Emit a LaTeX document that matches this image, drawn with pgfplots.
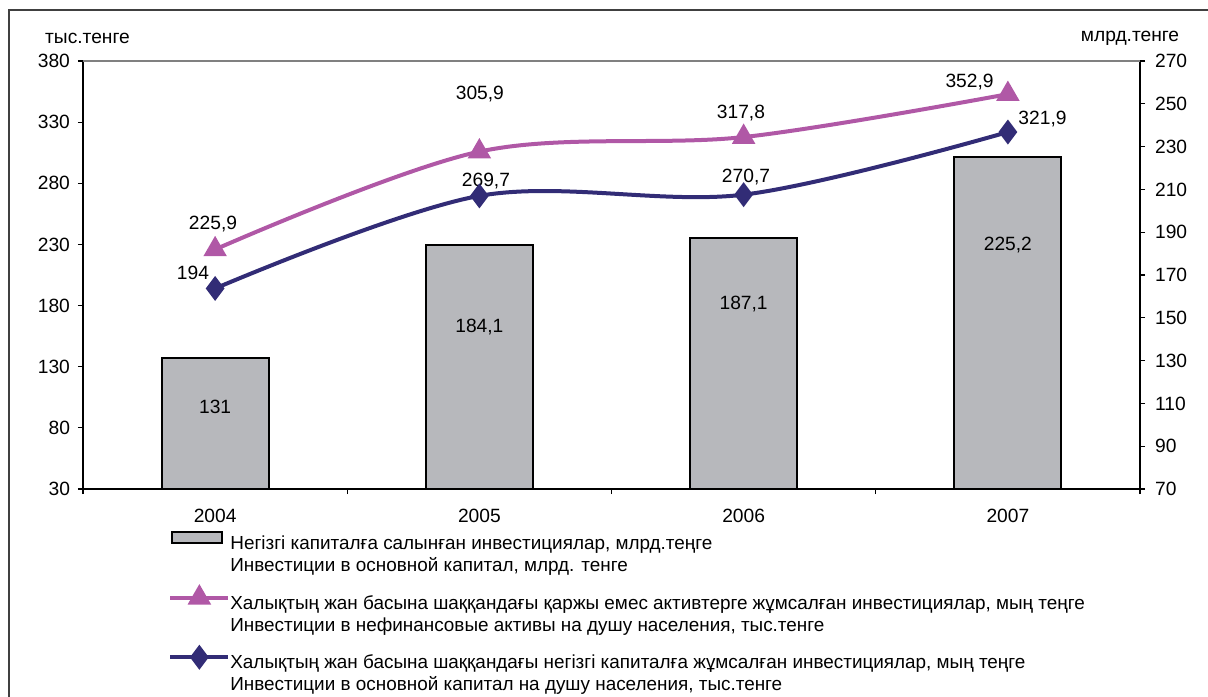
\documentclass[border=0pt]{standalone}
\usepackage{fontspec}
\setmainfont{Liberation Sans}
\usepackage{pgfplots}
\pgfplotsset{compat=1.18}

\definecolor{barfill}{RGB}{183,184,188}
\definecolor{pinkline}{RGB}{176,88,166}
\definecolor{navyline}{RGB}{50,44,118}

\pgfplotsset{
  base/.style={
    scale only axis, width=528.5pt, height=214pt,
    xmin=-0.5, xmax=3.5,
    /pgf/number format/assume math mode=true,
    tick label style={font=\fontsize{9.6}{11}\selectfont},
    tick align=outside, major tick length=2.5pt, minor tick length=2.5pt,
    axis line style={black, line width=0.75pt},
    every tick/.style={black, line width=0.6pt},
    clip=false,
  },
  linelegend/.style={legend image code/.code={
      \draw[mark repeat=2, mark phase=2, ##1, yshift=2.5pt]
        plot coordinates {(0pt,0pt) (14.5pt,0pt) (29pt,0pt)};}},
  barlegend/.style={legend image code/.code={
      \draw[fill=barfill, draw=black, line width=1pt] (1pt,-0.3pt) rectangle (26pt,5.2pt);}},
}

\begin{document}
\begin{tikzpicture}[font=\fontsize{9.6}{11.5}\selectfont]
\useasboundingbox (-41.5pt,-103.5pt) rectangle (562.5pt,244.5pt);
\draw[line width=1pt, black!75] (-37pt,-110pt) -- (-37pt,239.5pt) -- (570pt,239.5pt);

% bars, right axis (млрд. тенге)
\begin{axis}[base,
    axis y line*=right, axis x line=none,
    ymin=70, ymax=270, ytick={70,90,...,270},
    yticklabel style={xshift=1.5pt},
    ybar, bar width=53.5pt]
  \addplot[fill=barfill, draw=black, line width=1pt] coordinates {
    (0,131) (1,184.1) (2,187.1) (3,225.2)};
  \node at (axis cs:0,108.3) {131};
  \node at (axis cs:1,145.7) {184,1};
  \node at (axis cs:2,156.4) {187,1};
  \node at (axis cs:3,184) {225,2};
\end{axis}

% lines, left axis (тыс. тенге)
\begin{axis}[base,
    axis y line*=left, axis x line*=bottom,
    ymin=30, ymax=380, ytick={30,80,...,380},
    yticklabel style={xshift=-0.5pt},
    xtick={0,1,2,3}, xticklabels={2004,2005,2006,2007},
    xticklabel style={yshift=-4pt},
    every major x tick/.style={draw=none},
    minor xtick={-0.5,0.5,1.5,2.5,3.5},
    legend cell align=left,
    legend style={at={(0.0804,-0.0935)}, anchor=north west, draw=none, fill=none,
      inner sep=0pt, row sep=16pt, nodes={inner xsep=0pt},
      font=\fontsize{9.45}{11.2}\selectfont},
    ]
  \draw[gray, line width=0.75pt] (rel axis cs:0,1) -- (rel axis cs:1,1);

  \addlegendimage{barlegend}
  \addlegendentry{\begin{tabular}[t]{@{}l@{}}Негізгі капиталға салынған инвестициялар, млрд.теңге\\Инвестиции в основной капитал, млрд. тенге\end{tabular}}

  \addplot[pinkline, line width=2pt, smooth, tension=0.55, mark=triangle*, mark size=4.8pt,
      mark options={solid}, linelegend]
    coordinates {(0,225.9) (1,305.9) (2,317.8) (3,352.9)};
  \addlegendentry{\begin{tabular}[t]{@{}l@{}}Халықтың жан басына шаққандағы қаржы емес активтерге жұмсалған инвестициялар, мың теңге\\Инвестиции в нефинансовые активы на душу населения, тыс.тенге\end{tabular}}

  \addplot[navyline, line width=2pt, smooth, tension=0.55, mark=diamond*, mark size=4.6pt,
      mark options={solid}, linelegend]
    coordinates {(0,194) (1,269.7) (2,270.7) (3,321.9)};
  \addlegendentry{\begin{tabular}[t]{@{}l@{}}Халықтың жан басына шаққандағы негізгі капиталға жұмсалған инвестициялар, мың теңге\\Инвестиции в основной капитал на душу населения, тыс.тенге\end{tabular}}

  \node at (axis cs:-0.008,247) {225,9};
  \node at (axis cs:-0.084,206.5) {194};
  \node at (axis cs:1.002,353) {305,9};
  \node at (axis cs:1.025,282) {269,7};
  \node at (axis cs:1.99,337.5) {317,8};
  \node at (axis cs:2.009,285.5) {270,7};
  \node at (axis cs:2.855,362.5) {352,9};
  \node at (axis cs:3.131,332.5) {321,9};

  \node at (rel axis cs:0,1) [xshift=2.25pt, yshift=11.5pt] {тыс.тенге};
  \node at (rel axis cs:1,1) [xshift=-5pt, yshift=11.5pt] {млрд.тенге};
\end{axis}
\end{tikzpicture}
\end{document}
